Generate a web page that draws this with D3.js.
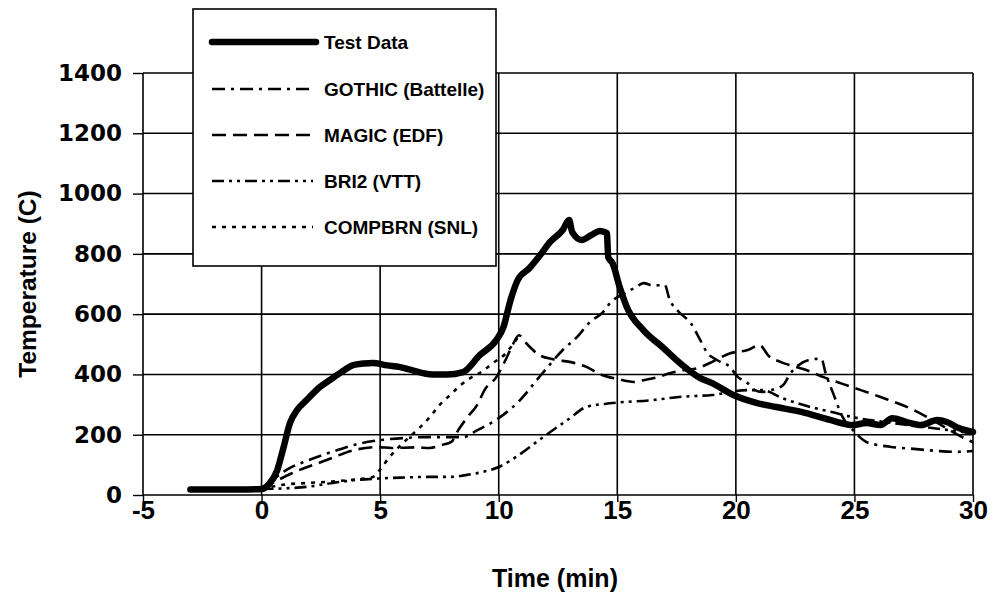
<!DOCTYPE html>
<html><head><meta charset="utf-8">
<script src="https://cdnjs.cloudflare.com/ajax/libs/d3/7.8.5/d3.min.js"></script>
<style>body{margin:0;background:#fff}svg{display:block}</style>
</head><body><svg id="chart" width="993" height="598"></svg>
<script>
// ---------- data ----------
const xTicks = [-5, 0, 5, 10, 15, 20, 25, 30];
const yTicks = [0, 200, 400, 600, 800, 1000, 1200, 1400];
const seriesNames = ["Test Data", "GOTHIC (Battelle)", "MAGIC (EDF)", "BRI2 (VTT)", "COMPBRN (SNL)"];

const testTime = [-3,-2,-1,0,0.3,0.65,0.9,1.2,1.5,1.9,2.46,3.0,3.5,3.86,4.3,4.7,5.3,5.8,6.3,7.2,7.8,8.5,9.2,9.9,10.2,10.5,10.8,11.3,11.75,12.16,12.7,12.97,13.1,13.5,13.9,14.27,14.56,14.62,14.8,15.1,15.4,16.1,16.9,17.7,18.5,19.0,19.9,20.9,21.7,22.8,23.97,24.94,25.5,26.1,26.6,27.2,27.8,28.5,28.9,29.4,30];
const testTemp = [18,18,18,20,35,80,150,239,282,315,358,388,415,431,436,438,430,425,415,400,400,408,464,514,557,647,713,753,796,839,879,912,872,846,862,876,869,789,769,690,624,547,491,434,388,371,332,305,292,275,249,232,239,232,255,242,232,249,242,222,209];

const gothicTime = [0,1.2,2,3.2,4.2,5,6,7,8.5,9.1,10,10.9,11.6,12.2,12.7,13.3,13.85,14.4,14.7,15.4,15.8,16.1,16.5,17.0,17.2,17.6,18.1,18.5,18.8,19.2,19.8,20,20.5,20.8,21.1,21.5,22,22.3,23.2,23.6,23.8,24.1,24.5,25,25.5,26.5,27.5,28.5,29.3,30];
const gothicTemp = [20,90,116,149,172,182,189,192,192,215,255,315,381,437,481,524,574,607,637,673,690,703,695,697,650,607,570,514,471,448,421,398,371,348,342,348,365,404,450,452,400,338,259,210,176,160,153,146,143,146];

const magicTime = [0,1.3,2.75,3.9,4.9,5.5,6.5,7.1,7.6,8.0,8.3,8.7,9.1,9.4,9.9,10.3,10.6,10.85,11.2,11.7,12.3,13.1,13.7,14.3,15,15.7,16.1,16.7,17.2,17.8,18.4,18.9,19.3,19.8,20.5,21,21.4,21.9,23,23.7,24.9,26.1,27.5,28.5,29.8,30];
const magicTemp = [20,73,116,149,159,156,158,156,166,176,216,260,300,348,391,450,500,530,500,465,450,440,425,400,385,375,381,391,404,414,421,438,454,471,481,497,460,441,414,391,358,325,282,239,182,175];

const bri2Time = [0,1,2,3,4,5,6,7,8,8.6,9.4,10,10.8,11.7,12.9,13.7,14.8,16.5,17.6,19,20.5,21.1,22,23,24,25,26,27,28,29,30];
const bri2Temp = [20,22,28,40,50,55,58,60,60,66,78,93,130,182,249,292,305,315,325,332,348,348,320,295,276,257,245,235,225,215,205];

const compbrnTime = [0,1,2,3,4,4.7,5.0,5.4,5.8,6.2,6.7,7.1,7.5,7.95,8.4,8.8,9.3,9.8,10.3,10.6,10.85];
const compbrnTemp = [20,35,40,45,52,60,85,126,160,190,226,259,298,332,365,388,410,440,470,500,528];

// ---------- layout ----------
const svg = d3.select("#chart");
const x = d3.scaleLinear().domain([-5, 30]).range([143, 973]);
const y = d3.scaleLinear().domain([0, 1400]).range([495, 73]);

// grid
svg.append("g").selectAll("line").data(yTicks).join("line")
  .attr("x1", x(-5)).attr("x2", x(30)).attr("y1", d => y(d)).attr("y2", d => y(d))
  .attr("stroke", "#000").attr("stroke-width", 1.6);
svg.append("g").selectAll("line").data(xTicks).join("line")
  .attr("x1", d => x(d)).attr("x2", d => x(d)).attr("y1", y(0)).attr("y2", y(1400))
  .attr("stroke", "#000").attr("stroke-width", 1.6);

// axes
const yAxis = svg.append("g").attr("transform", `translate(${x(-5)},0)`)
  .call(d3.axisLeft(y).tickValues(yTicks).tickSize(10).tickPadding(11).tickFormat(d => String(d)));
yAxis.select(".domain").remove();
yAxis.selectAll("line").attr("stroke-width", 1.4);
yAxis.selectAll("text").attr("font-family", "DejaVu Sans").attr("font-weight", "bold")
  .attr("font-size", 23).attr("fill", "#000");

const xAxis = svg.append("g").attr("transform", `translate(0,${y(0)})`)
  .call(d3.axisBottom(x).tickValues(xTicks).tickSize(7).tickFormat(d => String(d)));
xAxis.select(".domain").remove();
xAxis.selectAll("line").attr("stroke-width", 1.4);
xAxis.selectAll("text").attr("y", 24).attr("dy", 0)
  .attr("font-family", "Liberation Sans").attr("font-weight", "bold")
  .attr("font-size", 26).attr("fill", "#000");

// axis titles
svg.append("text").attr("transform", `translate(36,${(y(0)+y(1400))/2}) rotate(-90)`)
  .attr("text-anchor", "middle").attr("font-family", "Liberation Sans").attr("font-weight", "bold")
  .attr("font-size", 24.5).text("Temperature (C)");
svg.append("text").attr("x", 555).attr("y", 587).attr("text-anchor", "middle")
  .attr("font-family", "Liberation Sans").attr("font-weight", "bold").attr("font-size", 25)
  .text("Time (min)");

// series
const styles = [
  {w: 6.5, dash: null},
  {w: 2.6, dash: "13,6,3,6"},
  {w: 2.6, dash: "14,7"},
  {w: 2.6, dash: "12,5,3,5,3,5"},
  {w: 2.6, dash: "4,6"}
];
const seriesData = [
  [testTime, testTemp], [gothicTime, gothicTemp], [magicTime, magicTemp],
  [bri2Time, bri2Temp], [compbrnTime, compbrnTemp]
];
const line = d3.line().x(d => x(d[0])).y(d => y(d[1])).curve(d3.curveMonotoneX);
const order = [4, 3, 2, 1, 0];
order.forEach(i => {
  const pts = seriesData[i][0].map((t, k) => [t, seriesData[i][1][k]]);
  svg.append("path").datum(pts).attr("d", line).attr("fill", "none")
    .attr("stroke", "#000").attr("stroke-width", styles[i].w)
    .attr("stroke-linejoin", "round").attr("stroke-linecap", i === 0 ? "round" : "butt")
    .attr("stroke-dasharray", styles[i].dash);
});

// legend
const lg = svg.append("g");
lg.append("rect").attr("x", 193).attr("y", 9).attr("width", 303).attr("height", 257)
  .attr("fill", "#fff").attr("stroke", "#000").attr("stroke-width", 1.6);
const rowY = [42, 89, 135, 181, 227];
seriesNames.forEach((name, i) => {
  lg.append("line").attr("x1", 212).attr("x2", i === 0 ? 316 : 313)
    .attr("y1", rowY[i]).attr("y2", rowY[i]).attr("stroke", "#000")
    .attr("stroke-width", styles[i].w).attr("stroke-linecap", i === 0 ? "round" : "butt")
    .attr("stroke-dasharray", styles[i].dash);
  lg.append("text").attr("x", 324).attr("y", rowY[i] + 6.5)
    .attr("font-family", "Liberation Sans").attr("font-weight", "bold").attr("font-size", 19)
    .text(name);
});
</script></body></html>
